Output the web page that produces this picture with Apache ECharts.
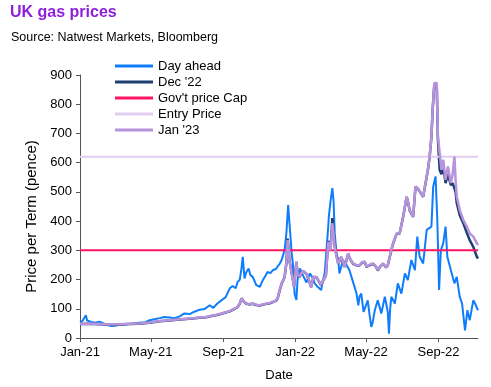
<!DOCTYPE html>
<html>
<head>
<meta charset="utf-8">
<script src="https://cdn.jsdelivr.net/npm/echarts@6/dist/echarts.min.js"></script>
<style>
  html, body { margin: 0; padding: 0; background: #fff; }
  #chart { width: 491px; height: 387px; }
</style>
</head>
<body>
<div id="chart"></div>
<script>
// ---- Data ----
const dayAheadDates = [
  '2021-01-01','2021-01-05','2021-01-11','2021-01-13','2021-01-20','2021-01-27','2021-02-03','2021-02-10',
  '2021-02-16','2021-02-23','2021-03-02','2021-03-09','2021-03-17','2021-03-26','2021-04-03','2021-04-12',
  '2021-04-22','2021-04-29','2021-05-07','2021-05-16','2021-05-24','2021-06-02','2021-06-10','2021-06-19',
  '2021-06-27','2021-07-06','2021-07-14','2021-07-23','2021-07-31','2021-08-09','2021-08-15','2021-08-22',
  '2021-08-29','2021-09-05','2021-09-12','2021-09-17','2021-09-22','2021-09-25','2021-09-29','2021-10-02',
  '2021-10-04','2021-10-07','2021-10-10','2021-10-14','2021-10-17','2021-10-21','2021-10-24','2021-10-27',
  '2021-11-02','2021-11-07','2021-11-12','2021-11-15','2021-11-20','2021-11-24','2021-11-29','2021-12-02',
  '2021-12-06','2021-12-09','2021-12-14','2021-12-17','2021-12-20','2021-12-22','2021-12-24','2021-12-26',
  '2021-12-28','2021-12-31','2022-01-03','2022-01-05','2022-01-09','2022-01-14','2022-01-20','2022-01-26',
  '2022-01-31','2022-02-03','2022-02-08','2022-02-14','2022-02-17','2022-02-20','2022-02-23','2022-02-26',
  '2022-02-27','2022-03-02','2022-03-05','2022-03-07','2022-03-09','2022-03-12','2022-03-15','2022-03-17',
  '2022-03-20','2022-03-23','2022-03-29','2022-04-03','2022-04-09','2022-04-15','2022-04-18','2022-04-20',
  '2022-04-23','2022-04-27','2022-04-29','2022-05-04','2022-05-07','2022-05-10','2022-05-12','2022-05-16',
  '2022-05-21','2022-05-27','2022-06-02','2022-06-07','2022-06-09','2022-06-11','2022-06-13','2022-06-19',
  '2022-06-24','2022-06-30','2022-07-06','2022-07-11','2022-07-17','2022-07-23','2022-07-27','2022-07-31',
  '2022-08-06','2022-08-12','2022-08-14','2022-08-20','2022-08-23','2022-08-27','2022-08-30','2022-09-02',
  '2022-09-05','2022-09-09','2022-09-13','2022-09-16','2022-09-22','2022-09-28','2022-10-02','2022-10-07',
  '2022-10-11','2022-10-16','2022-10-20','2022-10-24','2022-10-30','2022-11-02','2022-11-07'
];
const dayAheadValues = [
  53,58,78,60,55,52,56,50,
  44,41,42,45,46,48,50,52,
  54,61,64,68,72,70,68,74,
  84,82,90,97,99,112,103,118,
  129,140,170,178,170,190,200,240,
  278,204,225,238,215,209,195,181,
  175,198,215,226,222,232,236,244,
  255,267,301,358,455,400,347,290,
  255,150,130,200,238,215,190,221,
  205,187,175,164,198,221,300,381,
  415,470,513,470,358,290,267,221,
  221,267,250,232,192,152,112,141,
  152,89,95,129,80,38,50,95,
  129,84,141,89,15,100,141,118,
  187,152,221,198,267,232,347,278,
  255,370,370,381,518,553,404,164,
  300,324,381,278,232,187,209,141,
  118,26,95,61,129,118,95
];

const futuresDates = [
  '2021-01-01','2021-01-17','2021-02-03','2021-02-20','2021-03-09','2021-03-26','2021-04-12','2021-04-29',
  '2021-05-16','2021-06-02','2021-06-19','2021-07-06','2021-07-23','2021-08-03','2021-08-12','2021-08-21',
  '2021-08-29','2021-09-05','2021-09-12','2021-09-19','2021-09-25','2021-09-29','2021-10-02','2021-10-05',
  '2021-10-10','2021-10-15','2021-10-21','2021-10-27','2021-11-02','2021-11-09','2021-11-14','2021-11-19',
  '2021-11-24','2021-11-29','2021-12-02','2021-12-05','2021-12-09','2021-12-12','2021-12-14','2021-12-17',
  '2021-12-19','2021-12-21','2021-12-22','2021-12-26','2021-12-28','2021-12-30','2022-01-03','2022-01-05',
  '2022-01-08','2022-01-14','2022-01-20','2022-01-24','2022-01-28','2022-02-01','2022-02-06','2022-02-10',
  '2022-02-14','2022-02-18','2022-02-22','2022-02-26','2022-03-02','2022-03-05','2022-03-07','2022-03-09',
  '2022-03-12','2022-03-15','2022-03-20','2022-03-26','2022-04-01','2022-04-03','2022-04-09','2022-04-14',
  '2022-04-20','2022-04-25','2022-04-29','2022-05-02','2022-05-07','2022-05-13','2022-05-18','2022-05-21',
  '2022-05-26','2022-05-30','2022-06-04','2022-06-07','2022-06-10','2022-06-13','2022-06-16','2022-06-22',
  '2022-06-27','2022-07-03','2022-07-09','2022-07-12','2022-07-14','2022-07-20','2022-07-24','2022-07-28',
  '2022-07-31','2022-08-06','2022-08-09','2022-08-12','2022-08-14','2022-08-17','2022-08-20','2022-08-22',
  '2022-08-25','2022-08-29','2022-08-31','2022-09-03','2022-09-06','2022-09-09','2022-09-13','2022-09-17',
  '2022-09-22','2022-09-25','2022-09-28','2022-09-30','2022-10-02','2022-10-07','2022-10-13','2022-10-19',
  '2022-10-24','2022-10-30','2022-11-05','2022-11-07'
];
const dec22Values = [
  48,49,47,45,46,48,49,52,
  57,60,63,66,69,71,75,79,
  83,87,91,99,105,117,136,127,
  117,115,117,113,111,115,117,119,
  123,127,134,158,186,199,208,256,
  340,302,268,222,201,176,260,221,
  208,229,220,199,174,209,208,194,
  180,199,214,332,305,410,368,315,
  282,254,277,243,289,274,254,249,
  248,259,260,243,249,254,244,231,
  247,254,241,249,248,300,323,357,
  357,414,483,459,437,414,518,511,
  506,483,483,552,574,620,688,778,
  870,870,680,575,560,590,530,560,
  523,530,525,500,461,420,393,360,
  335,312,278,272
];
const jan23Values = [
  49,50,48,46,47,49,50,53,
  58,61,64,67,70,72,76,80,
  84,88,92,100,106,118,135,128,
  118,116,118,114,112,116,118,120,
  124,128,135,160,187,200,209,255,
  335,300,267,221,200,175,262,220,
  209,230,221,200,175,210,209,195,
  181,200,215,329,301,393,360,312,
  280,255,278,244,290,275,255,250,
  249,260,261,244,250,255,245,232,
  248,255,242,250,249,301,324,358,
  358,415,484,460,438,415,518,512,
  507,484,484,553,575,621,690,780,
  873,873,690,633,575,610,541,587,
  530,560,621,540,484,438,404,381,
  358,347,324,318
];

const capValue = 300;     // Gov't price cap
const entryValue = 620;   // Entry price
const axisStart = '2021-01-01';
const axisEnd = '2022-11-07';
const xTickDates = ['2021-01-01','2021-05-01','2021-09-01','2022-01-01','2022-05-01','2022-09-01'];
const monthNames = ['Jan','Feb','Mar','Apr','May','Jun','Jul','Aug','Sep','Oct','Nov','Dec'];

// ---- Build ----
function ts(s) { const p = s.split('-'); return Date.UTC(+p[0], +p[1] - 1, +p[2]); }
const pair = (dates, vals) => dates.map((d, i) => [ts(d), vals[i]]);
const tickTs = xTickDates.map(ts);

const FONT = 'Liberation Sans, Arial, sans-serif';
const C_DAY = '#0F7DFB';
const C_DEC = '#1E3F72';
const C_CAP = '#FF1464';
const C_ENTRY = '#E1CDF0';
const C_JAN = '#B693DC';

const chart = echarts.init(document.getElementById('chart'), null, { renderer: 'canvas' });
chart.setOption({
  animation: false,
  backgroundColor: '#ffffff',
  title: [
    { text: 'UK gas prices', left: 10, top: 5, padding: 0,
      textStyle: { color: '#8E1EDC', fontFamily: FONT, fontWeight: 'bold', fontSize: 16 } },
    { text: 'Source: Natwest Markets, Bloomberg', left: 11, top: 31, padding: 0,
      textStyle: { color: '#000', fontFamily: FONT, fontWeight: 'normal', fontSize: 12.5 } }
  ],
  legend: {
    orient: 'vertical', left: 115, top: 58, padding: 0,
    itemWidth: 38, itemHeight: 3, itemGap: 0, icon: 'rect',
    textStyle: { fontFamily: FONT, fontSize: 13, color: '#000', lineHeight: 16 },
    data: ['Day ahead', "Dec '22", "Gov't price Cap", 'Entry Price', "Jan '23"]
  },
  grid: { left: 80, right: 13, top: 75, bottom: 49, containLabel: false },
  xAxis: {
    type: 'value', min: ts(axisStart), max: ts(axisEnd),
    name: 'Date', nameLocation: 'middle', nameGap: 31,
    nameTextStyle: { fontFamily: FONT, fontSize: 13, color: '#000' },
    axisLine: { lineStyle: { color: '#555', width: 1 } },
    axisTick: { show: true, length: 4, customValues: tickTs, lineStyle: { color: '#555' } },
    axisLabel: {
      customValues: tickTs, margin: 8, fontFamily: FONT, fontSize: 13, color: '#000',
      showMinLabel: true, showMaxLabel: true,
      formatter: v => { const d = new Date(v); return monthNames[d.getUTCMonth()] + '-' + String(d.getUTCFullYear()).slice(2); }
    },
    splitLine: { show: false }, minorTick: { show: false }
  },
  yAxis: {
    type: 'value', min: 0, max: 900, interval: 100,
    name: 'Price per Term (pence)', nameLocation: 'middle', nameGap: 41,
    nameTextStyle: { fontFamily: FONT, fontSize: 15, color: '#000', padding: [0, 20, 0, 0] },
    axisLine: { show: true, lineStyle: { color: '#555', width: 1 } },
    axisTick: { show: true, length: 4, lineStyle: { color: '#555' } },
    axisLabel: { margin: 8, fontFamily: FONT, fontSize: 13, color: '#000' },
    splitLine: { show: false }
  },
  series: [
    { name: 'Day ahead', type: 'line', symbol: 'none', color: C_DAY,
      lineStyle: { width: 2, color: C_DAY }, data: pair(dayAheadDates, dayAheadValues) },
    { name: "Dec '22", type: 'line', symbol: 'none', color: C_DEC,
      lineStyle: { width: 2.5, color: C_DEC }, data: pair(futuresDates, dec22Values) },
    { name: "Gov't price Cap", type: 'line', symbol: 'none', color: C_CAP,
      lineStyle: { width: 2, color: C_CAP },
      data: [[ts(axisStart), capValue], [ts(axisEnd), capValue]] },
    { name: 'Entry Price', type: 'line', symbol: 'none', color: C_ENTRY,
      lineStyle: { width: 2, color: C_ENTRY },
      data: [[ts(axisStart), entryValue], [ts(axisEnd), entryValue]] },
    { name: "Jan '23", type: 'line', symbol: 'none', color: C_JAN,
      lineStyle: { width: 2.5, color: C_JAN }, data: pair(futuresDates, jan23Values) }
  ]
});
</script>
</body>
</html>
